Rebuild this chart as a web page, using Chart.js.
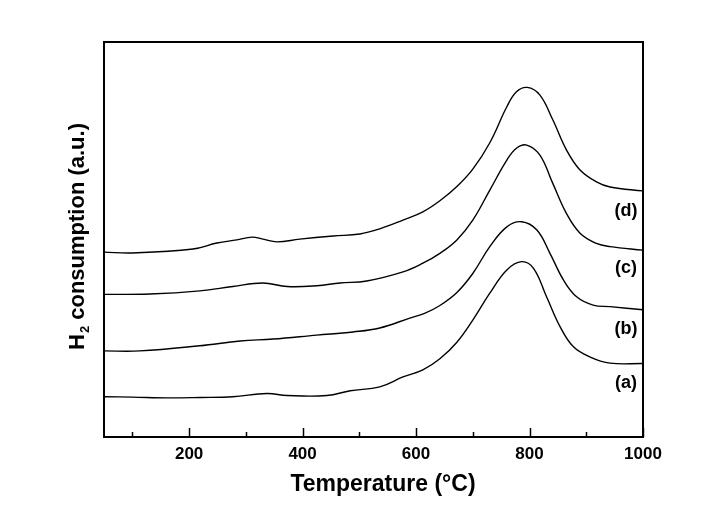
<!DOCTYPE html>
<html>
<head>
<meta charset="utf-8">
<script src="https://cdn.jsdelivr.net/npm/chart.js@4/dist/chart.umd.min.js"></script>
<style>
  html, body { margin: 0; padding: 0; background: #fff; }
  canvas { display: block; }
</style>
</head>
<body>
<canvas id="tpr" width="712" height="514"></canvas>
<script>
'use strict';

// ─── Data (temperature in °C, signal in a.u.) ────────────────────────────────
const tempA = [50, 100, 161, 220, 277, 337, 373, 443, 484, 536, 577, 612, 642, 672, 700, 730, 760, 786, 807, 830, 854, 877, 906, 942, 1000];
const valA  = [10.2, 10.1, 9.9, 10.0, 10.2, 11.0, 10.5, 10.5, 11.7, 12.7, 15.2, 17.0, 19.8, 24.0, 29.6, 36.4, 42.3, 44.4, 42.7, 35.5, 27.9, 22.9, 20.3, 18.7, 18.6];

const tempB = [50, 113, 219, 290, 348, 425, 489, 536, 589, 615, 642, 672, 700, 730, 760, 786, 813, 836, 860, 883, 912, 942, 1000];
const valB  = [21.8, 21.8, 23.1, 24.3, 24.8, 25.8, 26.6, 27.6, 30.1, 31.3, 33.3, 36.6, 41.4, 48.2, 53.2, 54.5, 52.4, 46.5, 39.7, 35.5, 33.4, 33.0, 32.2];

const tempC = [50, 131, 219, 277, 330, 373, 425, 466, 513, 577, 612, 642, 672, 700, 730, 760, 777, 795, 818, 841, 865, 889, 918, 942, 1000];
const valC  = [36.1, 36.2, 37.0, 38.1, 39.0, 38.1, 38.3, 39.0, 39.5, 41.8, 44.0, 46.5, 49.9, 54.9, 62.5, 70.1, 73.1, 73.9, 71.4, 64.2, 56.6, 51.6, 49.0, 48.2, 47.3];

const tempD = [50, 101, 207, 249, 284, 311, 330, 355, 395, 454, 501, 536, 577, 612, 642, 672, 700, 730, 760, 777, 796, 818, 841, 865, 889, 918, 942, 1000];
const valD  = [46.8, 46.6, 47.6, 49.1, 49.9, 50.6, 50.1, 49.4, 50.1, 50.9, 51.4, 52.7, 54.9, 57.0, 59.8, 63.4, 67.8, 74.5, 83.6, 87.4, 88.5, 86.6, 80.3, 72.7, 67.6, 64.6, 63.3, 62.3];

const xTicks      = [100, 200, 300, 400, 500, 600, 700, 800, 900, 1000];
const seriesNames = ['(a)', '(b)', '(c)', '(d)'];
// where the curve names sit (°C, a.u.)
const nameTemp    = [970, 970, 970, 970];
const nameVal     = [13.7, 27.3, 42.8, 57.2];

const FONT = '"Liberation Sans", Arial, Helvetica, sans-serif';

function toPoints(ts, vs) {
  return ts.map((t, i) => ({ x: t, y: vs[i] }));
}

function lineSet(label, ts, vs) {
  return {
    label,
    data:        toPoints(ts, vs),
    borderColor: '#000',
    borderWidth: 1.4,
    pointRadius: 0,
    fill:        false,
    tension:     0.4,
  };
}

// ─── Frame, inward ticks, titles and curve names ─────────────────────────────
const framePlugin = {
  id: 'frame',
  afterDraw(chart) {
    const { ctx, chartArea: a, scales: { x, y } } = chart;
    ctx.save();
    ctx.strokeStyle = '#000';
    ctx.lineWidth = 2;
    ctx.strokeRect(a.left, a.top, a.right - a.left, a.bottom - a.top);

    // ticks point into the plot
    ctx.lineWidth = 1.5;
    for (const t of xTicks) {
      const px = Math.round(x.getPixelForValue(t)) + 0.5;
      const len = t % 200 === 0 ? 9 : 5;
      ctx.beginPath();
      ctx.moveTo(px, a.bottom);
      ctx.lineTo(px, a.bottom - len);
      ctx.stroke();
    }

    ctx.fillStyle = '#000';

    // curve names
    ctx.font = 'bold 18px ' + FONT;
    ctx.textAlign = 'center';
    ctx.textBaseline = 'middle';
    seriesNames.forEach((n, i) => {
      ctx.fillText(n, x.getPixelForValue(nameTemp[i]), y.getPixelForValue(nameVal[i]));
    });

    // x title
    ctx.font = 'bold 23px ' + FONT;
    ctx.textBaseline = 'alphabetic';
    ctx.fillText('Temperature (\u00B0C)', 383, 491);

    // y title with subscript 2
    ctx.translate(84, 237);
    ctx.rotate(-Math.PI / 2);
    ctx.textAlign = 'left';
    const big = 'bold 22px ' + FONT;
    const small = 'bold 13px ' + FONT;
    ctx.font = big;
    const wH = ctx.measureText('H').width;
    const wRest = ctx.measureText(' consumption (a.u.)').width;
    ctx.font = small;
    const w2 = ctx.measureText('2').width;
    const x0 = -(wH + w2 + wRest) / 2;
    ctx.font = big;
    ctx.fillText('H', x0, 0);
    ctx.font = small;
    ctx.fillText('2', x0 + wH + 1, 5);
    ctx.font = big;
    ctx.fillText(' consumption (a.u.)', x0 + wH + w2 + 1, 0);
    ctx.restore();
  },
};

new Chart(document.getElementById('tpr').getContext('2d'), {
  type: 'line',
  data: {
    datasets: [
      lineSet('a', tempA, valA),
      lineSet('b', tempB, valB),
      lineSet('c', tempC, valC),
      lineSet('d', tempD, valD),
    ],
  },
  options: {
    responsive: false,
    animation:  false,
    layout: { padding: { left: 104, top: 42, right: 69, bottom: 0 } },
    plugins: {
      legend:  { display: false },
      tooltip: { enabled: false },
    },
    scales: {
      x: {
        type: 'linear',
        min:  50,
        max:  1000,
        afterBuildTicks: (s) => { s.ticks = xTicks.map(v => ({ value: v })); },
        afterFit: (s) => { s.height = 77; },
        grid:   { display: false, drawTicks: false },
        border: { display: false },
        ticks: {
          autoSkip:    false,
          maxRotation: 0,
          padding:     7,
          color:       '#000',
          font:        { family: FONT, size: 17, weight: 'bold' },
          callback:    (v) => (v % 200 === 0 ? String(v) : ''),
        },
      },
      y: {
        display: false,
        min: 0,
        max: 100,
      },
    },
  },
  plugins: [framePlugin],
});
</script>
</body>
</html>
